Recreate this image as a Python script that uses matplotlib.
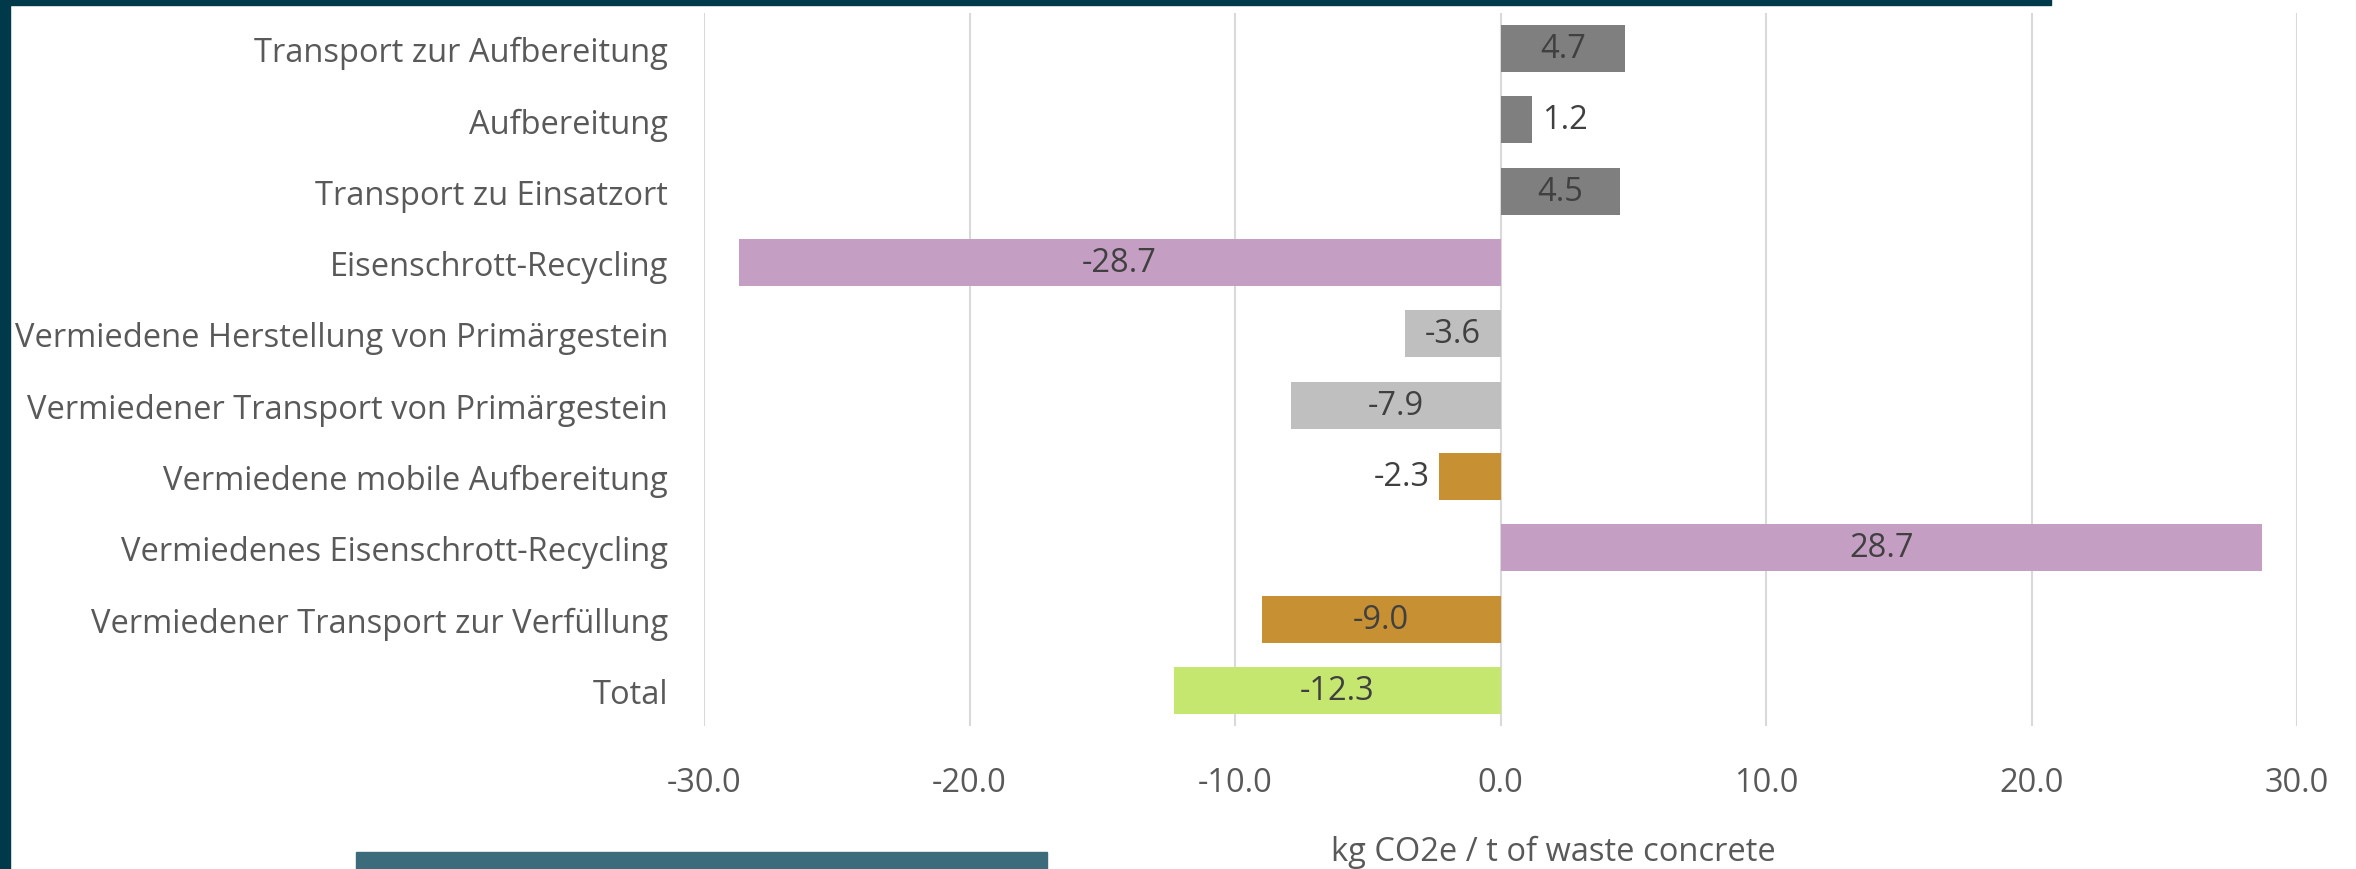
import matplotlib
matplotlib.use("Agg")
import matplotlib.pyplot as plt
from matplotlib.patches import Rectangle

categories = [
    "Transport zur Aufbereitung",
    "Aufbereitung",
    "Transport zu Einsatzort",
    "Eisenschrott-Recycling",
    "Vermiedene Herstellung von Primärgestein",
    "Vermiedener Transport von Primärgestein",
    "Vermiedene mobile Aufbereitung",
    "Vermiedenes Eisenschrott-Recycling",
    "Vermiedener Transport zur Verfüllung",
    "Total",
]
values = [4.7, 1.2, 4.5, -28.7, -3.6, -7.9, -2.3, 28.7, -9.0, -12.3]
colors = ["#7F7F7F", "#7F7F7F", "#7F7F7F", "#C49EC3", "#BFBFBF", "#BFBFBF",
          "#C69033", "#C49EC3", "#C69033", "#C5E76F"]
xticks = [-30, -20, -10, 0, 10, 20, 30]
xlabel = "kg CO2e / t of waste concrete"

plt.rcParams['font.family'] = ['Open Sans', 'DejaVu Sans']
FS = 23.5

W, H = 2356, 870
fig = plt.figure(figsize=(W / 100, H / 100), dpi=100)
ax = fig.add_axes([704 / W, 1 - 727 / H, (2297 - 704) / W, (727 - 14) / H])

y = list(range(len(categories)))
ax.barh(y, values, height=0.66, color=colors, zorder=3)
ax.set_ylim(len(categories) - 0.5, -0.5)
ax.set_xlim(-30, 30)
ax.set_xticks(xticks)
ax.set_xticklabels([f"{t:.1f}" for t in xticks])
ax.set_yticks(y)
ax.set_yticklabels(categories)
ax.grid(axis="x", color="#D9D9D9", linewidth=1.5, zorder=0)
ax.set_axisbelow(True)
for s in ax.spines.values():
    s.set_visible(False)
ax.tick_params(axis="both", length=0, labelsize=FS, colors="#595959")
ax.tick_params(axis="x", pad=29)
ax.tick_params(axis="y", pad=26)
ax.set_xlabel(xlabel, fontsize=FS, color="#595959")
ax.xaxis.label.set_va("center")
ax.xaxis.set_label_coords((1034 * 1.5026 - 704) / (2297 - 704), -(852 - 727) / (727 - 14))

for yi, v in zip(y, values):
    if abs(v) >= 3:
        ax.text(v / 2, yi, f"{v:.1f}", ha="center", va="center", fontsize=FS,
                color="#404040", zorder=4)
    else:
        off = 0.35 if v >= 0 else -0.35
        ax.text(v + off, yi, f"{v:.1f}", ha="left" if v >= 0 else "right",
                va="center", fontsize=FS, color="#404040", zorder=4)

# decorative frame elements
fig.patches.append(Rectangle((0, 1 - 6 / H), 2051 / W, 6 / H, transform=fig.transFigure,
                             color="#003A4A", zorder=10))
fig.patches.append(Rectangle((0, 0), 10 / W, 1, transform=fig.transFigure,
                             color="#003A4A", zorder=10))
fig.patches.append(Rectangle((356 / W, 0), (1047 - 356) / W, 17 / H, transform=fig.transFigure,
                             color="#3C6B7C", zorder=10))

fig.savefig("out.png", dpi=100)
